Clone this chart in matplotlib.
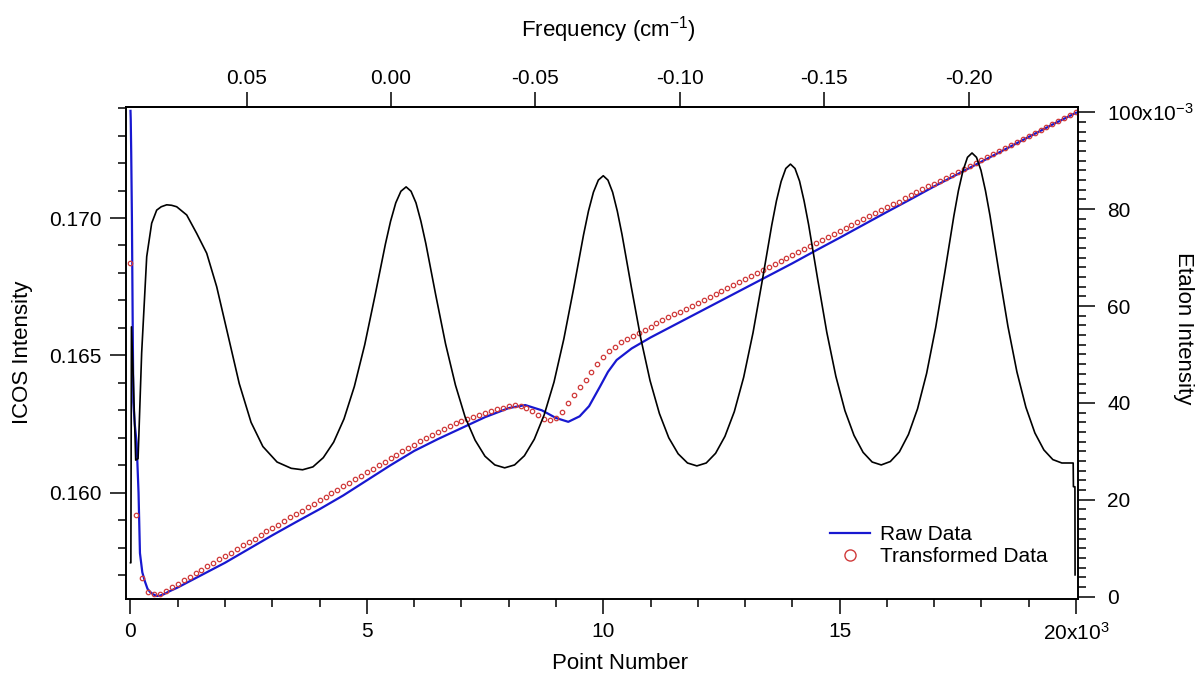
import matplotlib
matplotlib.use('Agg')
import matplotlib.pyplot as plt
from matplotlib.ticker import MultipleLocator, FuncFormatter, NullLocator
from matplotlib.lines import Line2D

plt.rcParams['font.family'] = ['Liberation Sans', 'DejaVu Sans']
plt.rcParams['mathtext.fontset'] = 'custom'
plt.rcParams['mathtext.rm'] = 'Liberation Sans'
plt.rcParams['mathtext.it'] = 'Liberation Sans:italic'
plt.rcParams['mathtext.bf'] = 'Liberation Sans:bold'

# ---------------- data ----------------
raw_pts = [0, 5, 15, 30, 45, 60, 90, 130, 170, 200,
           250, 307, 360, 412, 480, 554, 620, 700, 835, 1000,
           1500, 2000, 2500, 3000, 3500, 4000, 4500, 5000, 5500, 6000,
           6500, 7000, 7500, 8000, 8350, 8700, 9000, 9260, 9500, 9700,
           9930, 10100, 10283, 10600, 11000, 11500, 12000, 12500, 13000, 13500,
           14000, 14500, 15000, 15500, 16000, 16500, 17000, 17500, 18000, 18500,
           19000, 19500, 20000]
raw_vals = [0.1739, 0.1736, 0.1724, 0.1700, 0.1665, 0.1633, 0.1625, 0.1618, 0.1600, 0.1578,
            0.1571, 0.15676, 0.1565, 0.15639, 0.1563, 0.15624, 0.15625, 0.15630, 0.15642, 0.15655,
            0.15700, 0.15745, 0.15795, 0.15845, 0.15893, 0.15940, 0.15990, 0.16045, 0.16100, 0.16152,
            0.16195, 0.16235, 0.16275, 0.16308, 0.16319, 0.16300, 0.16272, 0.16258, 0.16278, 0.16315,
            0.16386, 0.16440, 0.16483, 0.16525, 0.16565, 0.16610, 0.16655, 0.16700, 0.16745, 0.16790,
            0.16835, 0.16882, 0.16928, 0.16975, 0.17022, 0.17068, 0.17115, 0.17160, 0.17205, 0.17250,
            0.17295, 0.17340, 0.17383]

trans_pts = list(range(0, 20001, 125))
trans_vals = [
    0.16835, 0.15920, 0.15690, 0.15640, 0.15630, 0.15632, 0.15643, 0.15655,
    0.15668, 0.15681, 0.15693, 0.15706, 0.15719, 0.15732, 0.15744, 0.15757,
    0.15770, 0.15782, 0.15795, 0.15808, 0.15821, 0.15833, 0.15846, 0.15859,
    0.15871, 0.15884, 0.15897, 0.15910, 0.15922, 0.15935, 0.15948, 0.15960,
    0.15973, 0.15986, 0.15998, 0.16011, 0.16024, 0.16037, 0.16049, 0.16062,
    0.16075, 0.16087, 0.16100, 0.16113, 0.16126, 0.16138, 0.16151, 0.16163,
    0.16175, 0.16187, 0.16199, 0.16211, 0.16222, 0.16233, 0.16243, 0.16252,
    0.16261, 0.16269, 0.16277, 0.16284, 0.16291, 0.16297, 0.16303, 0.16309,
    0.16314, 0.16318, 0.16317, 0.16310, 0.16298, 0.16283, 0.16270, 0.16265,
    0.16272, 0.16295, 0.16325, 0.16355, 0.16385, 0.16410, 0.16440, 0.16470,
    0.16495, 0.16515, 0.16532, 0.16547, 0.16560, 0.16572, 0.16583, 0.16594,
    0.16605, 0.16616, 0.16627, 0.16638, 0.16649, 0.16659, 0.16670, 0.16681,
    0.16692, 0.16703, 0.16714, 0.16725, 0.16735, 0.16746, 0.16757, 0.16768,
    0.16779, 0.16790, 0.16800, 0.16811, 0.16822, 0.16833, 0.16844, 0.16855,
    0.16865, 0.16876, 0.16887, 0.16898, 0.16909, 0.16920, 0.16930, 0.16941,
    0.16952, 0.16963, 0.16974, 0.16985, 0.16995, 0.17006, 0.17017, 0.17028,
    0.17039, 0.17050, 0.17060, 0.17071, 0.17082, 0.17093, 0.17104, 0.17115,
    0.17125, 0.17136, 0.17147, 0.17158, 0.17169, 0.17180, 0.17190, 0.17201,
    0.17212, 0.17223, 0.17234, 0.17245, 0.17255, 0.17266, 0.17277, 0.17288,
    0.17299, 0.17310, 0.17320, 0.17331, 0.17342, 0.17353, 0.17364, 0.17375,
    0.17385]

etalon_pts = [0, 8, 20, 60, 110, 160, 236, 343, 448, 554,
              650, 766, 870, 977, 1189, 1400, 1612, 1823, 2050, 2300,
              2550, 2800, 3100, 3400, 3640,
              3859, 4078, 4297, 4516, 4735, 4954, 5173, 5392, 5501, 5611, 5720, 5830,
              5934, 6039, 6143, 6247, 6456, 6664, 6873, 7081, 7290, 7498, 7707, 7915,
              8124, 8332, 8541, 8749, 8958, 9166, 9375, 9583, 9687, 9792, 9896, 10000,
              10099, 10198, 10297, 10396, 10594, 10792, 10990, 11188, 11386, 11584, 11782, 11980,
              12178, 12376, 12574, 12772, 12970, 13168, 13366, 13564, 13663, 13762, 13861, 13960,
              14056, 14152, 14248, 14344, 14536, 14728, 14920, 15112, 15304, 15496, 15688, 15880,
              16072, 16264, 16456, 16648, 16840, 17032, 17224, 17416, 17512, 17608, 17704, 17800,
              17895, 17990, 18085, 18180, 18370, 18560, 18750, 18940, 19130, 19320, 19510, 19700,
              19940, 19945, 19977, 19980]
etalon_vals = [0.0070, 0.0070, 0.0557, 0.0450, 0.0282, 0.0285, 0.0503, 0.0702, 0.0771, 0.0798,
               0.0805, 0.0809, 0.0808, 0.0805, 0.0788, 0.0750, 0.0709, 0.0640, 0.0545, 0.0440,
               0.0360, 0.0310, 0.0278, 0.0265, 0.0262,
               0.0268, 0.0287, 0.0319, 0.0367, 0.0434, 0.0520, 0.0622, 0.0728, 0.0775, 0.0813, 0.0837, 0.0846,
               0.0837, 0.0813, 0.0775, 0.0729, 0.0623, 0.0522, 0.0437, 0.0370, 0.0323, 0.0290, 0.0272, 0.0266,
               0.0272, 0.0291, 0.0325, 0.0375, 0.0443, 0.0532, 0.0637, 0.0747, 0.0796, 0.0835, 0.0860, 0.0869,
               0.0860, 0.0835, 0.0796, 0.0748, 0.0639, 0.0534, 0.0446, 0.0378, 0.0328, 0.0295, 0.0276, 0.0270,
               0.0276, 0.0296, 0.0331, 0.0382, 0.0453, 0.0545, 0.0654, 0.0767, 0.0817, 0.0857, 0.0884, 0.0893,
               0.0884, 0.0858, 0.0817, 0.0768, 0.0655, 0.0546, 0.0455, 0.0384, 0.0333, 0.0298, 0.0278, 0.0272,
               0.0279, 0.0299, 0.0335, 0.0388, 0.0461, 0.0556, 0.0669, 0.0786, 0.0838, 0.0879, 0.0907, 0.0916,
               0.0907, 0.0880, 0.0838, 0.0787, 0.0670, 0.0558, 0.0464, 0.0391, 0.0338, 0.0303, 0.0283, 0.0276,
               0.0276, 0.0227, 0.0227, 0.0045]

top_ticks = [0.05, 0.00, -0.05, -0.10, -0.15, -0.20]
top_labels = ['0.05', '0.00', '-0.05', '-0.10', '-0.15', '-0.20']

# linear mapping point number -> frequency (cm^-1)
FREQ_ZERO_PT = 5510.0
FREQ_PER_PT = 1.6372e-5

BLUE = '#1818d0'
RED = '#d03a3a'

# ---------------- figure ----------------
fig = plt.figure(figsize=(12.02, 6.84), dpi=100)
ax = fig.add_axes([0.10483, 0.12354, 0.79201, 0.71959])
ax2 = ax.twinx()

ax.plot(raw_pts, raw_vals, color=BLUE, lw=1.6, zorder=3)
ax.plot(trans_pts, trans_vals, ls='none', marker='o', ms=3.2, mfc='none',
        mec=RED, mew=0.9, zorder=4)
ax2.plot(etalon_pts, etalon_vals, color='black', lw=1.2)

ax.set_xlim(-95, 20042)
ax.set_ylim(0.156112, 0.17403)
ax2.set_ylim(-0.00058, 0.10103)

ax.xaxis.set_major_locator(MultipleLocator(5000))
ax.xaxis.set_minor_locator(MultipleLocator(1000))
ax.xaxis.set_major_formatter(FuncFormatter(
    lambda v, p: r'20x10$^{3}$' if abs(v - 20000) < 1 else f'{round(v / 1000):d}'))
ax.yaxis.set_major_locator(MultipleLocator(0.005))
ax.yaxis.set_minor_locator(MultipleLocator(0.001))
ax.yaxis.set_major_formatter(FuncFormatter(lambda v, p: f'{v:.3f}'))

ax2.yaxis.set_major_locator(MultipleLocator(0.02))
ax2.yaxis.set_minor_locator(MultipleLocator(0.002))
ax2.yaxis.set_major_formatter(FuncFormatter(
    lambda v, p: r'100x10$^{-3}$' if abs(v - 0.1) < 1e-9 else f'{int(round(v * 1000)):d}'))

for a in (ax, ax2):
    for s in a.spines.values():
        s.set_linewidth(1.2)

ax.tick_params(axis='x', which='major', direction='out', length=10.8, width=1.1,
               labelsize=15, pad=5.5, top=False)
ax.tick_params(axis='x', which='minor', direction='out', length=5.8, width=1.1, top=False)
ax.tick_params(axis='y', which='major', direction='out', length=11.5, width=1.1,
               labelsize=15, pad=6)
ax.tick_params(axis='y', which='minor', direction='out', length=5.5, width=1.1)
ax2.tick_params(axis='y', which='major', direction='out', length=12, width=1.1,
                labelsize=15, pad=9)
ax2.tick_params(axis='y', which='minor', direction='out', length=5.8, width=1.1)


def pt2freq(x):
    return (FREQ_ZERO_PT - x) * FREQ_PER_PT


def freq2pt(f):
    return FREQ_ZERO_PT - f / FREQ_PER_PT


secax = ax.secondary_xaxis('top', functions=(pt2freq, freq2pt))
secax.set_xticks(top_ticks)
secax.set_xticklabels(top_labels)
secax.xaxis.set_minor_locator(NullLocator())
secax.tick_params(axis='x', direction='out', length=10.8, width=1.1, labelsize=15, pad=3)
secax.spines['top'].set_linewidth(1.2)

# axis labels
ax.set_xlabel('Point Number', fontsize=16)
ax.xaxis.label.set_va('center')
ax.xaxis.set_label_coords(0.519, -0.131, transform=ax.transAxes)

ax.set_ylabel('ICOS Intensity', fontsize=16)
ax.yaxis.label.set_va('center')
ax.yaxis.label.set_ha('center')
ax.yaxis.set_label_coords(-0.1092, 0.503, transform=ax.transAxes)

ax2.set_ylabel('Etalon Intensity', fontsize=16, rotation=270)
ax2.yaxis.label.set_va('center')
ax2.yaxis.label.set_ha('center')
ax2.yaxis.set_label_coords(1.1103, 0.5516, transform=ax.transAxes)

secax.set_xlabel(r'Frequency (cm$^{-1}$)', fontsize=16)
secax.xaxis.label.set_va('center')
secax.xaxis.set_label_coords(0.507, 1.157, transform=ax.transAxes)

# legend
handles = [Line2D([], [], color=BLUE, lw=1.6),
           Line2D([], [], ls='none', marker='o', ms=8, mfc='none', mec=RED, mew=1.0)]
ax2.legend(handles, ['Raw Data', 'Transformed Data'], loc='upper left',
           bbox_to_anchor=(0.7395, 0.1514), frameon=False, fontsize=15,
           handlelength=1.9, handletextpad=0.5, labelspacing=0.16,
           borderpad=0, borderaxespad=0)

fig.savefig('out.png', dpi=100)
